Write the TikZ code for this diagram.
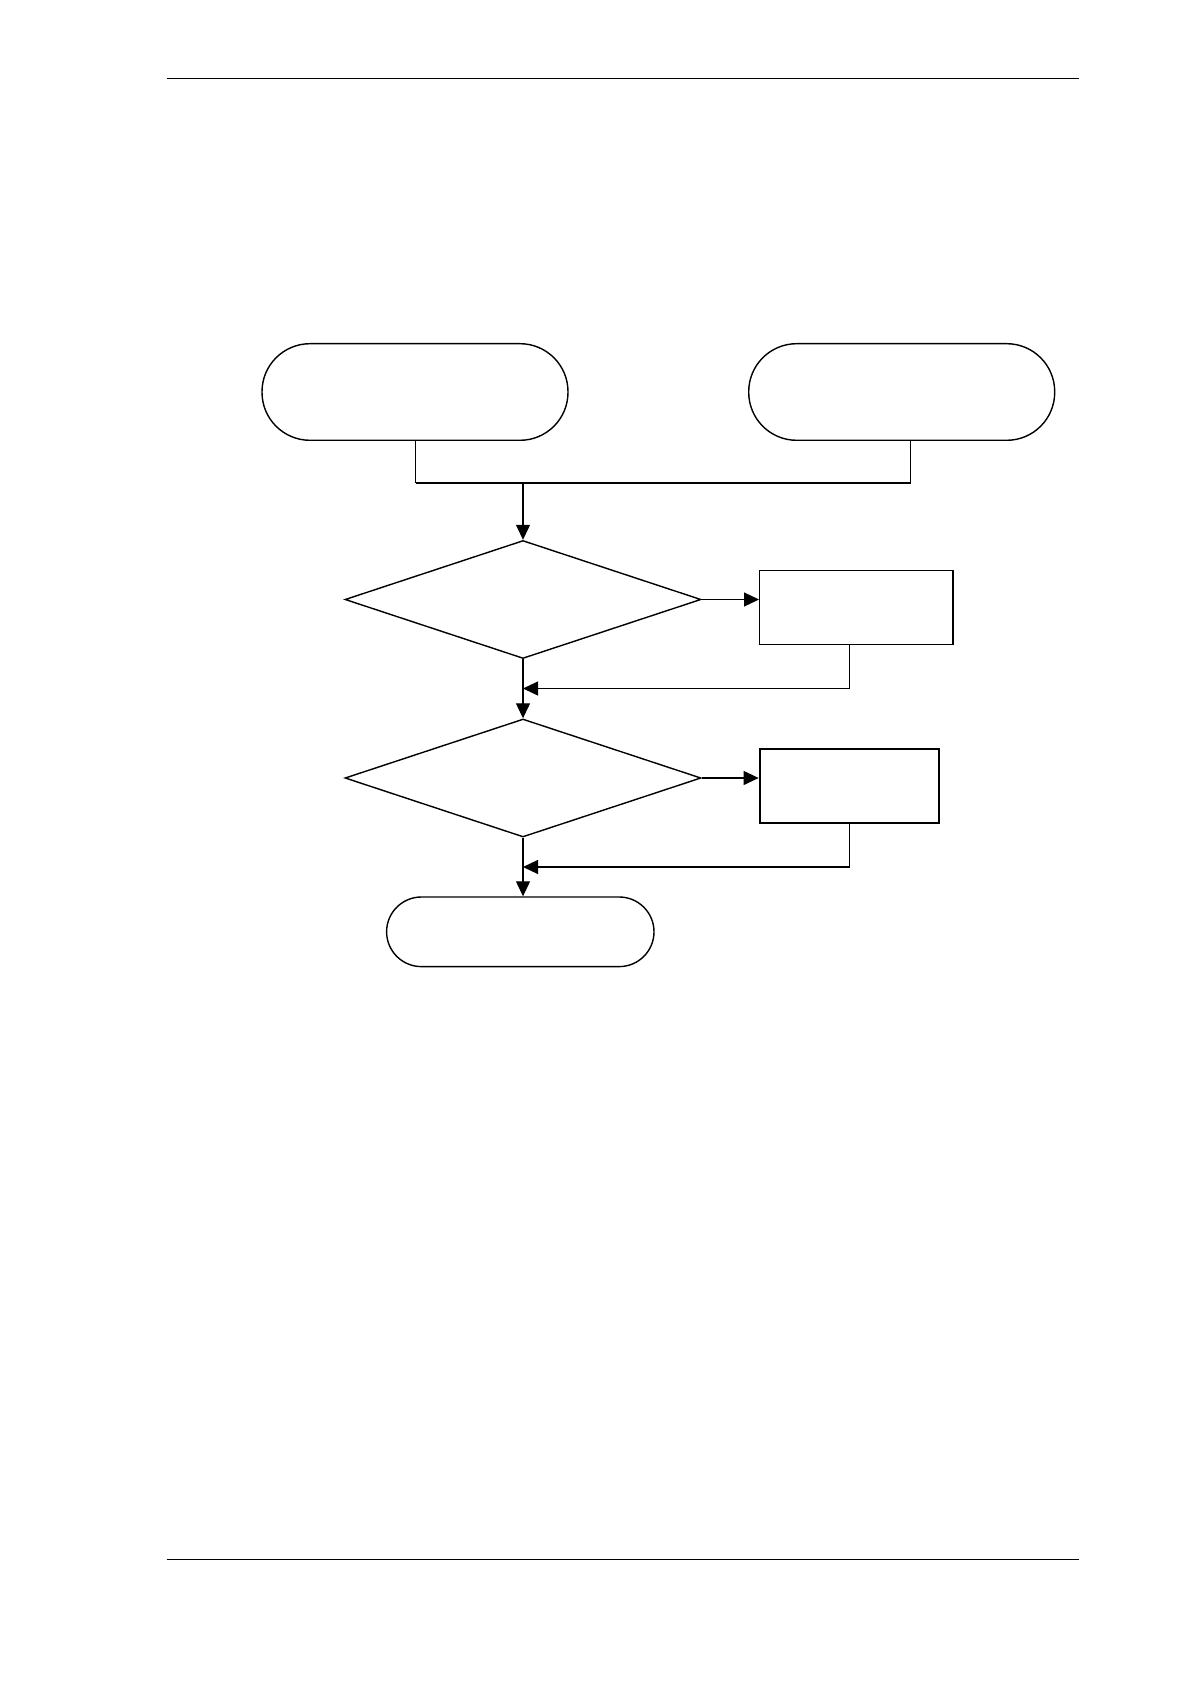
\documentclass[tikz,border=0pt]{standalone}
\usetikzlibrary{shapes.geometric,arrows.meta,calc}
\begin{document}
\begin{tikzpicture}[x=0.5pt,y=-0.5pt,
  line width=0.6pt,
  term/.style={draw, rectangle, rounded corners=#1, inner sep=0pt, line width=0.7pt},
  dec/.style={draw, diamond, inner sep=0pt, minimum width=178pt, minimum height=59pt, line width=0.7pt},
  proc/.style={draw, rectangle, inner sep=0pt, minimum height=37pt},
  arr/.style={-{Triangle[length=7.5pt,width=7pt]}},
  rule/.style={line width=0.8pt}]
\useasboundingbox (0,0) rectangle (1190,1684);
\fill[white] (0,0) rectangle (1190,1684);
% page rules
\coordinate (hl) at (166.5,78.5);
\coordinate (hr) at (1079,78.5);
\coordinate (fl) at (166.5,1559.5);
\coordinate (fr) at (1079,1559.5);
\draw[rule] (hl) -- (hr);
\draw[rule] (fl) -- (fr);
% nodes
\node[term=24pt, minimum width=153pt, minimum height=48.3pt] (L) at (415,392) {};
\node[term=24pt, minimum width=153pt, minimum height=48.3pt] (R) at (901.7,392) {};
\node[dec] (D1) at (523,599.5) {};
\node[proc, line width=0.6pt, minimum width=96.7pt] (B1) at (856.3,607.5) {};
\node[dec] (D2) at (523,778) {};
\node[proc, line width=1pt, minimum width=89.7pt] (B2) at (849.3,786) {};
\node[term=17.4pt, minimum width=133.7pt, minimum height=34.8pt] (E) at (520.3,931.8) {};
% junction
\coordinate (Ls) at (415.6,440.3);
\coordinate (Rs) at (910.8,440.3);
\coordinate (J) at (523,483.3);
\draw (Ls) -- (415.6,483.3);
\draw (Rs) -- (910.8,483.3);
\draw[line width=1pt] (415.6,483.3) -- (910.8,483.3);
\draw[arr] (J) -- (D1.north);
% decision 1
\draw[arr] (D1.east) -- (D1.east -| B1.west);
\coordinate (B1s) at (849.6,644.4);
\coordinate (M1) at (523,688.5);
\draw[arr] (B1s) |- (M1);
\draw[arr] (D1.south) -- (D2.north);
% decision 2
\draw[arr] (D2.east) -- (D2.east -| B2.west);
\coordinate (B2s) at (849.6,822.7);
\coordinate (M2) at (523,867);
\draw[arr] (B2s) |- (M2);
\draw[arr] (D2.south) -- (D2.south |- E.north);
\end{tikzpicture}
\end{document}
